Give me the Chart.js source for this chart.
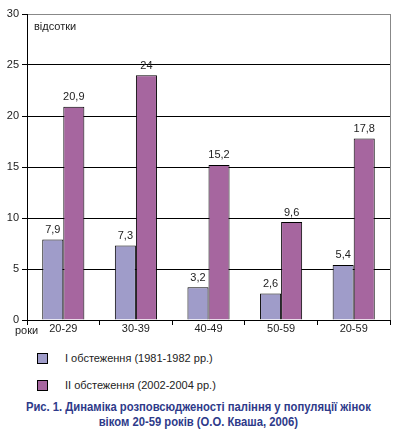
<!DOCTYPE html>
<html>
<head>
<meta charset="utf-8">
<script src="https://cdn.jsdelivr.net/npm/chart.js@4/dist/chart.umd.min.js"></script>
<style>
  html, body { margin: 0; padding: 0; background: #fff; }
  #wrap { position: relative; width: 397px; height: 446px; font-family: "Liberation Sans", Arial, sans-serif; }
  #c { position: absolute; left: 0; top: 0; }
  .leg { position: absolute; left: 37px; font-size: 11px; color: #222; height: 12px; }
  .leg .sw { position: absolute; left: 0; top: 0; width: 9px; height: 9px; border: 1px solid #000; }
  .leg .tx { position: absolute; left: 28px; top: -1px; white-space: nowrap; }
  #cap { position: absolute; left: 0; width: 397px; top: 400px; text-align: center; font-family: "Liberation Sans", Arial, sans-serif; font-weight: bold; font-size: 12.5px; line-height: 15px; color: #2e3a8a; transform: scaleX(0.9); transform-origin: 197px 0; }
</style>
</head>
<body>
<div id="wrap">
  <canvas id="c" width="397" height="342"></canvas>
  <div class="leg" style="top:353px"><div class="sw" style="background:#9f9cc9"></div><div class="tx">I обстеження (1981-1982 рр.)</div></div>
  <div class="leg" style="top:380px"><div class="sw" style="background:#a6669f"></div><div class="tx">II обстеження (2002-2004 рр.)</div></div>
  <div id="cap">Рис. 1. Динаміка розповсюдженості паління у популяції жінок<br>віком 20-59 років (О.О. Кваша, 2006)</div>
</div>
<script>
const categories = ["20-29", "30-39", "40-49", "50-59", "20-59"];
const survey1 = [7.9, 7.3, 3.2, 2.6, 5.4];
const survey2 = [20.9, 24, 15.2, 9.6, 17.8];
const labels1 = ["7,9", "7,3", "3,2", "2,6", "5,4"];
const labels2 = ["20,9", "24", "15,2", "9,6", "17,8"];
const seriesNames = ["I обстеження (1981-1982 рр.)", "II обстеження (2002-2004 рр.)"];
const yTicks = [0, 5, 10, 15, 20, 25, 30];

const FONT = "'Liberation Sans', Arial, sans-serif";

const extras = {
  id: 'extras',
  afterDatasetsDraw(chart) {
    const ctx = chart.ctx;
    const ca = chart.chartArea;
    ctx.save();
    // right border
    ctx.strokeStyle = '#888';
    ctx.lineWidth = 1;
    ctx.beginPath();
    ctx.moveTo(Math.round(ca.right) + 0.5, ca.top);
    ctx.lineTo(Math.round(ca.right) + 0.5, ca.bottom);
    ctx.stroke();
    // value labels
    ctx.font = '11px ' + FONT;
    ctx.fillStyle = '#222';
    ctx.textAlign = 'center';
    ctx.textBaseline = 'bottom';
    const lbls = [labels1, labels2];
    chart.data.datasets.forEach((ds, di) => {
      const meta = chart.getDatasetMeta(di);
      meta.data.forEach((bar, i) => {
        ctx.fillText(lbls[di][i], bar.x, bar.y - 4);
      });
    });
    // unit label and axis caption
    ctx.textAlign = 'left';
    ctx.textBaseline = 'middle';
    ctx.fillText('відсотки', ca.left + 7, 27);
    ctx.fillText('роки', 15, ca.bottom + 11);
    ctx.restore();
  }
};

new Chart(document.getElementById('c'), {
  type: 'bar',
  data: {
    labels: categories,
    datasets: [
      { label: seriesNames[0], data: survey1, backgroundColor: '#9f9cc9', borderColor: '#000', borderWidth: 1, borderSkipped: 'bottom' },
      { label: seriesNames[1], data: survey2, backgroundColor: '#a6669f', borderColor: '#000', borderWidth: 1, borderSkipped: 'bottom' }
    ]
  },
  options: {
    responsive: false,
    animation: false,
    devicePixelRatio: 1,
    layout: { padding: { top: 14, right: 7, left: 0, bottom: 0 } },
    plugins: { legend: { display: false }, tooltip: { enabled: false } },
    datasets: { bar: { categoryPercentage: 0.58, barPercentage: 1 } },
    scales: {
      x: {
        offset: true,
        grid: { offset: true, drawOnChartArea: false, drawTicks: true, tickLength: 5, color: '#000' },
        border: { color: '#000', width: 1 },
        ticks: { color: '#222', font: { size: 11, family: FONT }, padding: -3, maxRotation: 0 },
        afterFit(s) { s.height = 22; }
      },
      y: {
        min: 0, max: 30,
        afterBuildTicks(s) { s.ticks = yTicks.map(v => ({ value: v })); },
        grid: { color: (c) => c.tick && c.tick.value === 30 ? '#888' : '#000', tickColor: '#000', tickLength: 5, drawTicks: true },
        border: { color: '#000', width: 1 },
        ticks: { color: '#222', font: { size: 11, family: FONT }, padding: 3 },
        afterFit(s) { s.width = 27; }
      }
    }
  },
  plugins: [extras]
});
</script>
</body>
</html>
